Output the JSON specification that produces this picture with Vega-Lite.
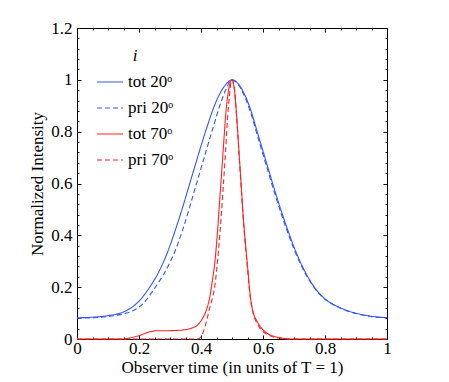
{
  "$schema": "https://vega.github.io/schema/vega-lite/v6.json",
  "width": 310,
  "height": 311,
  "autosize": "none",
  "padding": {"left": 77, "top": 28, "right": 62, "bottom": 43},
  "config": {
    "view": {"stroke": "black", "strokeWidth": 1},
    "font": "Liberation Serif",
    "axis": {"grid": false, "domainColor": "black", "tickColor": "black", "labelColor": "black", "titleColor": "black", "labelFont": "Liberation Serif", "titleFont": "Liberation Serif", "labelFontSize": 17, "titleFontSize": 17, "titleFontWeight": "normal", "labelOverlap": false, "labelFlush": false, "labelBound": false}
  },
  "data": {"values": [
    {"s":"tot 20ᵒ","t":0,"v":0.082},{"s":"tot 20ᵒ","t":0.05,"v":0.084},{"s":"tot 20ᵒ","t":0.1,"v":0.09},{"s":"tot 20ᵒ","t":0.14,"v":0.1},{"s":"tot 20ᵒ","t":0.16,"v":0.11},{"s":"tot 20ᵒ","t":0.18,"v":0.125},{"s":"tot 20ᵒ","t":0.2,"v":0.146},{"s":"tot 20ᵒ","t":0.22,"v":0.175},{"s":"tot 20ᵒ","t":0.24,"v":0.21},{"s":"tot 20ᵒ","t":0.26,"v":0.25},{"s":"tot 20ᵒ","t":0.28,"v":0.3},{"s":"tot 20ᵒ","t":0.3,"v":0.36},{"s":"tot 20ᵒ","t":0.32,"v":0.43},{"s":"tot 20ᵒ","t":0.34,"v":0.505},{"s":"tot 20ᵒ","t":0.36,"v":0.585},{"s":"tot 20ᵒ","t":0.38,"v":0.665},{"s":"tot 20ᵒ","t":0.4,"v":0.745},{"s":"tot 20ᵒ","t":0.42,"v":0.82},{"s":"tot 20ᵒ","t":0.44,"v":0.89},{"s":"tot 20ᵒ","t":0.46,"v":0.945},{"s":"tot 20ᵒ","t":0.48,"v":0.982},{"s":"tot 20ᵒ","t":0.5,"v":1.0},{"s":"tot 20ᵒ","t":0.52,"v":0.985},{"s":"tot 20ᵒ","t":0.54,"v":0.945},{"s":"tot 20ᵒ","t":0.56,"v":0.885},{"s":"tot 20ᵒ","t":0.58,"v":0.805},{"s":"tot 20ᵒ","t":0.6,"v":0.725},{"s":"tot 20ᵒ","t":0.62,"v":0.645},{"s":"tot 20ᵒ","t":0.64,"v":0.565},{"s":"tot 20ᵒ","t":0.66,"v":0.49},{"s":"tot 20ᵒ","t":0.68,"v":0.42},{"s":"tot 20ᵒ","t":0.7,"v":0.355},{"s":"tot 20ᵒ","t":0.72,"v":0.298},{"s":"tot 20ᵒ","t":0.74,"v":0.25},{"s":"tot 20ᵒ","t":0.76,"v":0.21},{"s":"tot 20ᵒ","t":0.78,"v":0.178},{"s":"tot 20ᵒ","t":0.8,"v":0.155},{"s":"tot 20ᵒ","t":0.82,"v":0.138},{"s":"tot 20ᵒ","t":0.85,"v":0.12},{"s":"tot 20ᵒ","t":0.88,"v":0.106},{"s":"tot 20ᵒ","t":0.92,"v":0.094},{"s":"tot 20ᵒ","t":0.96,"v":0.086},{"s":"tot 20ᵒ","t":1.0,"v":0.082},
    {"s":"pri 20ᵒ","t":0,"v":0.08},{"s":"pri 20ᵒ","t":0.05,"v":0.082},{"s":"pri 20ᵒ","t":0.1,"v":0.087},{"s":"pri 20ᵒ","t":0.14,"v":0.094},{"s":"pri 20ᵒ","t":0.16,"v":0.1},{"s":"pri 20ᵒ","t":0.18,"v":0.109},{"s":"pri 20ᵒ","t":0.2,"v":0.123},{"s":"pri 20ᵒ","t":0.22,"v":0.145},{"s":"pri 20ᵒ","t":0.24,"v":0.178},{"s":"pri 20ᵒ","t":0.26,"v":0.213},{"s":"pri 20ᵒ","t":0.28,"v":0.25},{"s":"pri 20ᵒ","t":0.3,"v":0.296},{"s":"pri 20ᵒ","t":0.32,"v":0.35},{"s":"pri 20ᵒ","t":0.34,"v":0.418},{"s":"pri 20ᵒ","t":0.36,"v":0.495},{"s":"pri 20ᵒ","t":0.38,"v":0.577},{"s":"pri 20ᵒ","t":0.4,"v":0.658},{"s":"pri 20ᵒ","t":0.42,"v":0.74},{"s":"pri 20ᵒ","t":0.44,"v":0.82},{"s":"pri 20ᵒ","t":0.46,"v":0.898},{"s":"pri 20ᵒ","t":0.48,"v":0.962},{"s":"pri 20ᵒ","t":0.49,"v":0.988},{"s":"pri 20ᵒ","t":0.5,"v":1.0},{"s":"pri 20ᵒ","t":0.52,"v":0.982},{"s":"pri 20ᵒ","t":0.54,"v":0.938},{"s":"pri 20ᵒ","t":0.56,"v":0.875},{"s":"pri 20ᵒ","t":0.58,"v":0.793},{"s":"pri 20ᵒ","t":0.6,"v":0.712},{"s":"pri 20ᵒ","t":0.62,"v":0.632},{"s":"pri 20ᵒ","t":0.64,"v":0.553},{"s":"pri 20ᵒ","t":0.66,"v":0.479},{"s":"pri 20ᵒ","t":0.68,"v":0.41},{"s":"pri 20ᵒ","t":0.7,"v":0.347},{"s":"pri 20ᵒ","t":0.72,"v":0.292},{"s":"pri 20ᵒ","t":0.74,"v":0.245},{"s":"pri 20ᵒ","t":0.76,"v":0.207},{"s":"pri 20ᵒ","t":0.78,"v":0.176},{"s":"pri 20ᵒ","t":0.8,"v":0.153},{"s":"pri 20ᵒ","t":0.82,"v":0.137},{"s":"pri 20ᵒ","t":0.85,"v":0.119},{"s":"pri 20ᵒ","t":0.88,"v":0.105},{"s":"pri 20ᵒ","t":0.92,"v":0.093},{"s":"pri 20ᵒ","t":0.96,"v":0.085},{"s":"pri 20ᵒ","t":1.0,"v":0.082},
    {"s":"tot 70ᵒ","t":0,"v":0},{"s":"tot 70ᵒ","t":0.15,"v":0},{"s":"tot 70ᵒ","t":0.17,"v":0.004},{"s":"tot 70ᵒ","t":0.2,"v":0.013},{"s":"tot 70ᵒ","t":0.23,"v":0.026},{"s":"tot 70ᵒ","t":0.26,"v":0.032},{"s":"tot 70ᵒ","t":0.29,"v":0.032},{"s":"tot 70ᵒ","t":0.32,"v":0.033},{"s":"tot 70ᵒ","t":0.35,"v":0.036},{"s":"tot 70ᵒ","t":0.37,"v":0.042},{"s":"tot 70ᵒ","t":0.39,"v":0.055},{"s":"tot 70ᵒ","t":0.405,"v":0.08},{"s":"tot 70ᵒ","t":0.418,"v":0.114},{"s":"tot 70ᵒ","t":0.428,"v":0.16},{"s":"tot 70ᵒ","t":0.436,"v":0.22},{"s":"tot 70ᵒ","t":0.445,"v":0.3},{"s":"tot 70ᵒ","t":0.453,"v":0.41},{"s":"tot 70ᵒ","t":0.46,"v":0.53},{"s":"tot 70ᵒ","t":0.467,"v":0.65},{"s":"tot 70ᵒ","t":0.474,"v":0.77},{"s":"tot 70ᵒ","t":0.48,"v":0.87},{"s":"tot 70ᵒ","t":0.487,"v":0.945},{"s":"tot 70ᵒ","t":0.493,"v":0.985},{"s":"tot 70ᵒ","t":0.5,"v":1.0},{"s":"tot 70ᵒ","t":0.507,"v":0.97},{"s":"tot 70ᵒ","t":0.515,"v":0.86},{"s":"tot 70ᵒ","t":0.52,"v":0.77},{"s":"tot 70ᵒ","t":0.526,"v":0.66},{"s":"tot 70ᵒ","t":0.532,"v":0.55},{"s":"tot 70ᵒ","t":0.537,"v":0.46},{"s":"tot 70ᵒ","t":0.544,"v":0.36},{"s":"tot 70ᵒ","t":0.551,"v":0.27},{"s":"tot 70ᵒ","t":0.556,"v":0.2},{"s":"tot 70ᵒ","t":0.562,"v":0.14},{"s":"tot 70ᵒ","t":0.569,"v":0.1},{"s":"tot 70ᵒ","t":0.58,"v":0.07},{"s":"tot 70ᵒ","t":0.59,"v":0.05},{"s":"tot 70ᵒ","t":0.61,"v":0.025},{"s":"tot 70ᵒ","t":0.634,"v":0.011},{"s":"tot 70ᵒ","t":0.66,"v":0.004},{"s":"tot 70ᵒ","t":0.69,"v":0},{"s":"tot 70ᵒ","t":1.0,"v":0},
    {"s":"pri 70ᵒ","t":0,"v":0},{"s":"pri 70ᵒ","t":0.39,"v":0},{"s":"pri 70ᵒ","t":0.398,"v":0.005},{"s":"pri 70ᵒ","t":0.408,"v":0.03},{"s":"pri 70ᵒ","t":0.418,"v":0.07},{"s":"pri 70ᵒ","t":0.426,"v":0.11},{"s":"pri 70ᵒ","t":0.435,"v":0.15},{"s":"pri 70ᵒ","t":0.444,"v":0.2},{"s":"pri 70ᵒ","t":0.45,"v":0.26},{"s":"pri 70ᵒ","t":0.457,"v":0.35},{"s":"pri 70ᵒ","t":0.465,"v":0.47},{"s":"pri 70ᵒ","t":0.472,"v":0.59},{"s":"pri 70ᵒ","t":0.479,"v":0.72},{"s":"pri 70ᵒ","t":0.485,"v":0.84},{"s":"pri 70ᵒ","t":0.491,"v":0.93},{"s":"pri 70ᵒ","t":0.496,"v":0.985},{"s":"pri 70ᵒ","t":0.5,"v":1.0},{"s":"pri 70ᵒ","t":0.507,"v":0.97},{"s":"pri 70ᵒ","t":0.515,"v":0.855},{"s":"pri 70ᵒ","t":0.52,"v":0.765},{"s":"pri 70ᵒ","t":0.526,"v":0.65},{"s":"pri 70ᵒ","t":0.532,"v":0.54},{"s":"pri 70ᵒ","t":0.537,"v":0.45},{"s":"pri 70ᵒ","t":0.544,"v":0.35},{"s":"pri 70ᵒ","t":0.551,"v":0.26},{"s":"pri 70ᵒ","t":0.556,"v":0.19},{"s":"pri 70ᵒ","t":0.562,"v":0.135},{"s":"pri 70ᵒ","t":0.569,"v":0.095},{"s":"pri 70ᵒ","t":0.58,"v":0.062},{"s":"pri 70ᵒ","t":0.59,"v":0.042},{"s":"pri 70ᵒ","t":0.61,"v":0.02},{"s":"pri 70ᵒ","t":0.634,"v":0.008},{"s":"pri 70ᵒ","t":0.66,"v":0.002},{"s":"pri 70ᵒ","t":0.69,"v":0},{"s":"pri 70ᵒ","t":1.0,"v":0}
  ]},
  "resolve": {"axis": {"x": "independent", "y": "independent"}},
  "layer": [
    {
      "mark": {"type": "line", "interpolate": "monotone", "strokeWidth": 1.1},
      "encoding": {
        "x": {"field": "t", "type": "quantitative", "scale": {"domain": [0, 1], "nice": false, "zero": false},
          "axis": {"orient": "bottom", "title": "Observer time (in units of T = 1)", "values": [0,0.05,0.1,0.15,0.2,0.25,0.3,0.35,0.4,0.45,0.5,0.55,0.6,0.65,0.7,0.75,0.8,0.85,0.9,0.95,1],
            "format": "~g", "labelExpr": "abs(datum.value*5 - round(datum.value*5)) < 0.001 ? datum.label : ''",
            "tickSize": {"condition": {"test": "abs(datum.value*5 - round(datum.value*5)) < 0.001", "value": -4}, "value": -2},
            "labelPadding": 5, "titlePadding": 1}},
        "y": {"field": "v", "type": "quantitative", "scale": {"domain": [0, 1.2], "nice": false},
          "axis": {"orient": "left", "title": "Normalized Intensity", "values": [0,0.04,0.08,0.12,0.16,0.2,0.24,0.28,0.32,0.36,0.4,0.44,0.48,0.52,0.56,0.6,0.64,0.68,0.72,0.76,0.8,0.84,0.88,0.92,0.96,1,1.04,1.08,1.12,1.16,1.2],
            "format": "~g", "labelExpr": "abs(datum.value*5 - round(datum.value*5)) < 0.001 ? datum.label : ''",
            "tickSize": {"condition": {"test": "abs(datum.value*5 - round(datum.value*5)) < 0.001", "value": -4}, "value": -2},
            "labelPadding": 9, "titlePadding": 4}},
        "color": {"field": "s", "type": "nominal", "title": "i",
          "scale": {"domain": ["tot 20ᵒ", "pri 20ᵒ", "tot 70ᵒ", "pri 70ᵒ"], "range": ["#3355ff", "#3355ff", "#ff2222", "#ff2222"]},
          "legend": {"orient": "none", "legendX": 19, "legendY": 20, "padding": 0, "symbolType": "stroke", "symbolSize": 676, "symbolStrokeWidth": 1.2, "labelFont": "Liberation Serif", "labelFontSize": 17, "labelColor": "black", "titleFont": "Liberation Serif", "titleFontSize": 17, "titleFontStyle": "italic", "titleFontWeight": "normal", "titleColor": "black", "titleAnchor": "middle", "titlePadding": 3, "rowPadding": 4, "labelOffset": 4}},
        "strokeDash": {"field": "s", "type": "nominal", "title": "i",
          "scale": {"domain": ["tot 20ᵒ", "pri 20ᵒ", "tot 70ᵒ", "pri 70ᵒ"], "range": [[1, 0], [5, 3], [1, 0], [5, 3]]},
          "legend": {"orient": "none", "legendX": 19, "legendY": 20, "padding": 0, "symbolType": "stroke", "symbolSize": 676, "symbolStrokeWidth": 1.2, "labelFont": "Liberation Serif", "labelFontSize": 17, "labelColor": "black", "titleFont": "Liberation Serif", "titleFontSize": 17, "titleFontStyle": "italic", "titleFontWeight": "normal", "titleColor": "black", "titleAnchor": "middle", "titlePadding": 3, "rowPadding": 4, "labelOffset": 4}}
      }
    },
    {
      "mark": {"type": "point", "opacity": 0},
      "encoding": {
        "x": {"field": "t", "type": "quantitative",
          "axis": {"orient": "top", "title": null, "labels": false, "values": [0,0.05,0.1,0.15,0.2,0.25,0.3,0.35,0.4,0.45,0.5,0.55,0.6,0.65,0.7,0.75,0.8,0.85,0.9,0.95,1],
            "tickSize": {"condition": {"test": "abs(datum.value*5 - round(datum.value*5)) < 0.001", "value": -4}, "value": -2}}},
        "y": {"field": "v", "type": "quantitative",
          "axis": {"orient": "right", "title": null, "labels": false, "values": [0,0.04,0.08,0.12,0.16,0.2,0.24,0.28,0.32,0.36,0.4,0.44,0.48,0.52,0.56,0.6,0.64,0.68,0.72,0.76,0.8,0.84,0.88,0.92,0.96,1,1.04,1.08,1.12,1.16,1.2],
            "tickSize": {"condition": {"test": "abs(datum.value*5 - round(datum.value*5)) < 0.001", "value": -4}, "value": -2}}}
      }
    }
  ]
}
